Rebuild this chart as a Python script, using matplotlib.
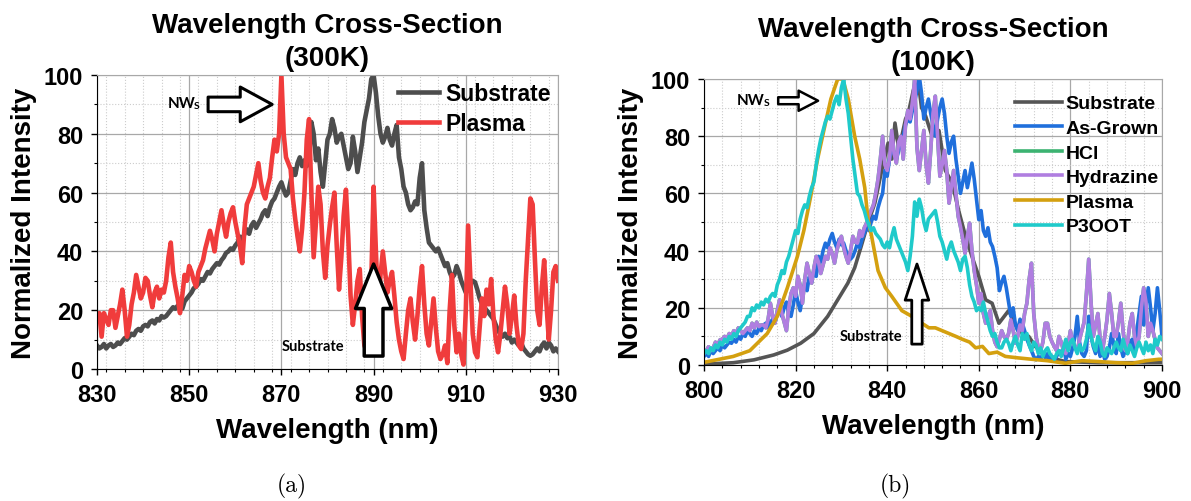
import numpy as np
import matplotlib
matplotlib.use('Agg')
import matplotlib.pyplot as plt
from matplotlib.ticker import MultipleLocator

plt.rcParams['font.family'] = ['Liberation Sans', 'DejaVu Sans']
plt.rcParams['font.weight'] = 'bold'

# ---- (a) 300K, sampled every 0.5 nm from 830 to 930 ----
wl300 = np.arange(830, 930.01, 0.5)
sub300 = [8, 7, 7.5, 8.5, 7, 8, 8.5, 7.5, 8, 9,
          8.5, 9.5, 10.5, 10, 11, 12, 11.5, 13, 13.6, 13,
          14.5, 15, 14.5, 16, 16.5, 15.5, 17, 16.5, 18, 17.5,
          18, 19, 20, 21, 20.5, 21.5, 22.5, 20.5, 23, 24,
          25, 26, 27.5, 28, 29, 30.6, 30, 31.5, 33, 32.5,
          34, 35, 36, 35.5, 37, 38, 39.5, 40, 41, 40.5,
          42, 43, 45, 44, 46, 47.5, 46, 48.8, 50, 48,
          49.5, 51, 53, 54, 52, 55, 57, 58, 60, 62,
          63.5, 61, 59, 60, 64, 68, 66, 70, 72, 69,
          71, 69, 72, 84, 80, 71, 75, 67, 62, 70,
          78, 80, 85, 82, 77, 79, 80, 76, 72, 68,
          70, 79, 74, 67, 72, 77, 84, 88, 92, 98.6,
          100, 94, 86, 80, 77, 79, 82, 78, 76, 80,
          83, 72, 68, 62, 60, 56, 54, 55, 57, 56,
          65, 70, 54, 48, 43, 42, 41, 40, 41, 39,
          37, 35, 36, 33, 31, 32, 35, 33, 30, 28,
          26, 27, 29, 30, 29.5, 27, 24, 22, 21, 20,
          19, 18, 17, 15, 13, 12, 11, 12, 10.5, 11,
          9, 10, 9, 8, 9, 7, 6, 5, 4.5, 5,
          6, 7, 6, 8, 9, 7, 9, 8, 6, 7,
          6]
plasma300 = [17, 19, 11, 19, 17, 15, 20, 20, 14, 18,
             22, 27, 20, 11, 15, 22, 26, 32, 28, 24,
             26, 31, 30, 25, 21, 26, 28, 24, 27, 26,
             30, 38, 43, 33, 28, 24, 19, 25, 32, 30,
             35, 33, 30, 28, 33, 35, 37, 41, 44, 47,
             44, 40, 46, 50, 54, 49, 45, 50, 53, 55,
             50, 46, 42, 36, 48, 56, 58, 60, 62, 66,
             70, 64, 60, 58, 62, 65, 72, 78, 74, 80,
             100, 80, 72, 70, 68, 58, 51, 45, 40, 48,
             60, 78, 85, 60, 38, 50, 62, 56, 40, 31,
             42, 49, 55, 60, 42, 27, 38, 52, 61, 45,
             25, 15, 22, 30, 34, 18, 8, 6, 18, 30,
             62, 40, 20, 32, 40, 33, 26, 30, 33, 25,
             16, 10, 6, 3.4, 12, 20, 24, 16, 10, 18,
             28, 35, 22, 12, 8, 16, 24, 14, 6, 3.4,
             5, 8, 2, 20, 32, 15, 5.7, 12, 5, 1.5,
             20, 48.8, 30, 12, 5.7, 4, 14, 24, 18, 27,
             22, 30.6, 18, 10, 5.7, 12, 20, 28, 22, 12,
             18, 25, 14.7, 8, 6.8, 12, 30, 44, 58, 56,
             37, 20, 15, 28, 37, 22, 10, 20, 33, 35,
             30]

# ---- (b) 100K ----
wl100 = np.arange(800, 900.01, 0.5)
sub100_x = [800, 806.4, 810.9, 815.2, 818.2, 821.1, 824, 827, 829.2, 831.4, 832.9, 834.3,
            835.8, 837.3, 838.8, 840.2, 841, 841.7, 842.5, 843.2, 844, 844.6, 845.7, 846.8,
            847.5, 848.4, 849.8, 851.3, 852.7, 854.2, 855.6, 857.1, 858.5, 860, 861.5,
            862.9, 864.4, 866.5, 868.7, 870.9, 872.4, 874.5, 878.9, 886.2, 900]
sub100_y = [0.3, 0.8, 1.8, 3.5, 5.2, 7.6, 11, 17, 22.8, 28.6, 34, 41.4, 49.6, 56.6, 68,
            77.6, 72, 84.6, 76, 80, 86, 88, 96, 98.6, 90, 87, 80, 82, 68, 63.6, 54, 45,
            38, 31, 22.8, 21.6, 14.6, 19, 12, 10, 6.4, 3, 1.2, 0.8, 0.8]

grown = [3, 4, 3, 5, 4, 5, 6, 5, 7, 6,
         7, 8, 7.6, 9, 8, 10, 9, 11, 10, 12,
         11, 10, 12, 11, 13, 12, 14, 14.6, 13, 15,
         16, 15, 18, 19, 17, 20, 22, 18, 17, 21,
         26, 22, 19, 24, 28.6, 26, 31, 29, 33, 31,
         38, 36, 40, 42.6, 41, 44, 46, 43, 41, 44,
         42, 42.6, 40, 38, 37, 38, 40, 42.6, 41, 44,
         46, 48.4, 47, 50, 52, 51, 55, 57.8, 60, 68,
         66, 72, 76, 74, 71.8, 75, 78, 80, 84, 86,
         85, 89, 92, 96, 101, 95, 86, 90, 93, 88,
         84, 80, 86, 90, 93, 88, 80, 74, 78, 80,
         72, 66, 60, 64, 68, 62, 66, 70.6, 65, 58,
         50.8, 54, 47, 45, 48, 43, 41.4, 38, 34, 26,
         29, 31, 27, 22, 17, 20, 14, 12, 16, 14.6,
         12, 9, 7, 5, 3, 1.8, 3, 2, 4, 2.5,
         4, 2, 3, 1.8, 3, 5, 4, 6.4, 2, 4,
         3, 6, 10, 17, 8, 4, 3, 5, 17, 10,
         6.4, 4, 8, 3, 5, 2, 3, 6, 11, 7,
         4, 11, 6, 3, 5, 4, 7.6, 9, 5, 12,
         18, 24, 14, 21, 27, 20, 12, 18, 27, 19,
         10]

hydra = [4, 5, 6.4, 5, 6, 8, 7, 8.8, 9, 10,
         9, 11, 10, 12, 11, 13, 12, 11, 12, 13,
         12, 14.6, 13, 15, 13.4, 14, 14, 13, 16, 21.6,
         17, 14.6, 19, 22.8, 18, 15, 12, 20, 25, 27,
         24, 31, 28, 21.6, 30, 35.6, 32, 28.6, 34, 38,
         36, 32, 35, 38, 37, 41, 39, 35.6, 40, 43,
         45, 41, 38, 35.6, 40, 45, 43, 42.6, 47, 45,
         48, 49.6, 52, 54, 56, 60, 65, 72, 80, 70,
         68, 72, 82, 74, 70.6, 78, 80, 72, 84, 89,
         86, 92, 100, 76, 68, 75, 82, 70, 63.6, 75,
         88, 94, 80, 66, 70, 75, 68, 56.6, 62, 68,
         60, 52, 48.4, 44, 39, 45, 49.6, 40, 33, 28,
         21.6, 25, 18, 14.6, 17, 19, 12, 8, 6.4, 9,
         12, 10, 8.8, 11, 15.8, 12, 7.6, 10, 14, 12,
         18, 21.6, 30, 35.6, 18, 10, 6, 5, 8, 14.6,
         14.6, 10, 8, 6.4, 5, 10, 8, 5, 4, 7,
         12, 8, 6.4, 5, 9, 12, 15, 25, 37, 22,
         10, 14, 18, 9, 5, 10, 16, 25, 18, 10,
         10, 15, 21.6, 12, 5, 8, 14.6, 18, 10, 6.4,
         10, 20, 27, 22, 10, 14.6, 12, 8.8, 6, 5,
         4]

hcl = hydra

plasma100_x = [800.2, 806.4, 810, 813.8, 816, 818.2, 820.4, 821.8, 823.3, 824.8, 826.3,
               827.7, 829.2, 830.3, 831.5, 832.9, 834, 835.1, 835.8, 836.6, 838, 839.6,
               841, 843.2, 845.4, 847.2, 849.1, 850.5, 852, 853.5, 855, 856.4, 858, 859.3,
               860.8, 862.2, 864, 865.8, 868.5, 871.6, 875, 878.9, 882.5, 886.2, 890,
               893.5, 896.5, 899.3, 900]
plasma100_y = [1, 3, 5, 11, 17, 27, 38, 47, 59, 72, 83, 93, 100, 100, 93, 80, 72, 62, 51,
               45, 33, 27, 24, 19, 17, 15, 13, 13, 12, 11, 10, 9, 8, 6, 6.5, 4, 4.5, 3, 2.5,
               2, 1.5, 0.6, 1.5, 1.2, 0.8, 0.6, 1.5, 2, 2]

p3oot = [4, 5, 4, 6, 5, 7, 6, 8, 7, 9,
         8, 10, 9, 11, 10, 12, 13, 14, 15, 17,
         17, 20, 19, 21, 20, 22, 21, 23, 22, 24,
         25, 24, 28, 30, 33, 32, 36, 38, 41, 44,
         47, 46, 51, 54, 56, 55, 59, 62, 64, 70,
         75, 79, 82, 85, 87, 86, 89, 92, 94, 91,
         97, 100, 93, 88, 80, 72, 66, 60, 59, 56,
         54, 51, 49, 47, 48, 46, 45, 44, 42, 41,
         43, 41, 45, 48, 44, 42, 40, 38, 36, 33,
         38, 45, 57, 52, 58, 55, 50, 47, 51, 52,
         53, 54, 50, 45, 43, 40, 37, 41, 43, 40,
         38, 36, 33, 37, 38, 34, 28, 24, 22, 19,
         20, 19, 22, 18, 15, 12, 10, 11, 8, 6,
         6, 8, 9, 7.6, 5, 8, 10, 7, 5, 11,
         9, 11, 7, 5, 8, 7, 4, 6, 3, 5,
         6, 4, 3, 2, 4, 5, 3, 6, 9, 5,
         8, 9, 6, 4, 7, 5, 6, 9, 14, 10,
         7, 5, 10, 8, 4, 3, 6, 5, 4, 6,
         8, 6, 5, 9, 6, 4, 7, 5, 3, 6,
         8, 6, 4, 8, 5, 7, 4, 9, 7, 10,
         9]

fig = plt.figure(figsize=(11.91, 5.02), dpi=100)
ax1 = fig.add_axes([97 / 1191, 1 - 370 / 502, 461 / 1191, 294 / 502])
ax2 = fig.add_axes([704 / 1191, 1 - 366 / 502, 458 / 1191, 286 / 502])


def style(ax, xmin, xmax, title):
    ax.set_xlim(xmin, xmax)
    ax.set_ylim(0, 100)
    ax.xaxis.set_major_locator(MultipleLocator(20))
    ax.xaxis.set_minor_locator(MultipleLocator(4))
    ax.yaxis.set_major_locator(MultipleLocator(20))
    ax.yaxis.set_minor_locator(MultipleLocator(10))
    ax.grid(which='major', color='#a8a8a8', lw=0.9)
    ax.grid(which='minor', color='#cccccc', lw=0.8, ls=':')
    ax.set_axisbelow(True)
    ax.tick_params(which='major', direction='out', length=4, width=1, labelsize=17, pad=6)
    ax.tick_params(which='minor', direction='out', length=2.5, width=0.8)
    for s in ['top', 'right']:
        ax.spines[s].set_color('#a8a8a8')
    ax.set_xlabel('Wavelength (nm)', fontsize=20, fontweight='bold', labelpad=8)
    ax.set_ylabel('Normalized Intensity', fontsize=20, fontweight='bold', labelpad=5)
    ax.set_title(title, fontsize=20, fontweight='bold', pad=7, linespacing=1.35)


def block_arrow(ax, tail, tip, hl, hw, tw, lw):
    ax.annotate('', xy=tip, xytext=tail,
                arrowprops=dict(arrowstyle=f'simple,head_length={hl},head_width={hw},tail_width={tw}',
                                mutation_scale=10, fc='white', ec='black', lw=lw,
                                shrinkA=0, shrinkB=0))


def nws(ax, x, y):
    ax.text(x, y, 'NW', family='Lato', fontsize=11, ha='right', va='center')
    ax.annotate('S', xy=(x, y), xytext=(-0.8, -2), textcoords='offset points',
                family='Lato', fontsize=7.5, ha='left', va='center')


# (a)
ax1.plot(wl300, sub300, color='#4d4d4d', lw=3.3, label='Substrate')
ax1.plot(wl300, plasma300, color='#f03c3c', lw=3.3, label='Plasma')
style(ax1, 830, 930, 'Wavelength Cross-Section\n(300K)')
ax1.set_xticks([830, 850, 870, 890, 910, 930])
ax1.legend(loc='upper right', frameon=False, fontsize=16.5, handlelength=1.8,
           handletextpad=0.3, labelspacing=0.3, borderaxespad=0.0, borderpad=0.3)
block_arrow(ax1, (854.1, 90), (868, 90), 2.3, 2.5, 1.05, 2.2)
block_arrow(ax1, (890, 4.4), (890, 35.7), 3.2, 2.6, 1.35, 2.5)
nws(ax1, 851.3, 90.5)
ax1.text(876.9, 7.8, 'Substrate', family='Lato', fontsize=10.5, ha='center', va='center')

# (b)
ax2.plot(sub100_x, sub100_y, color='#555555', lw=2.6, label='Substrate')
ax2.plot(wl100, grown, color='#1f6fdc', lw=2.6, label='As-Grown')
ax2.plot(wl100, hcl, color='#3cb371', lw=2.6, label='HCl', zorder=1.5)
ax2.plot(wl100, hydra, color='#b07ee0', lw=2.6, label='Hydrazine')
ax2.plot(plasma100_x, plasma100_y, color='#d4a00f', lw=2.6, label='Plasma')
ax2.plot(wl100, p3oot, color='#1fcaca', lw=2.6, label='P3OOT')
style(ax2, 800, 900, 'Wavelength Cross-Section\n(100K)')
ax2.legend(loc='upper right', bbox_to_anchor=(1.0, 0.955), frameon=False, fontsize=14,
           handlelength=2.4, handletextpad=0.2, labelspacing=0.36, borderaxespad=0.0,
           borderpad=0.15)
block_arrow(ax2, (816.2, 92.4), (824.9, 92.4), 1.4, 1.45, 0.5, 1.8)
block_arrow(ax2, (846.5, 7.3), (846.5, 35.3), 2.6, 1.7, 0.75, 2)
nws(ax2, 813.3, 92.7)
ax2.text(836.5, 10.2, 'Substrate', family='Lato', fontsize=10.5, ha='center', va='center')

fig.text(0.245, 0.03, '(a)', family='cmr10', fontsize=17, fontweight='normal', ha='center', va='center')
fig.text(0.752, 0.03, '(b)', family='cmr10', fontsize=17, fontweight='normal', ha='center', va='center')

fig.savefig('out.png', dpi=100)
